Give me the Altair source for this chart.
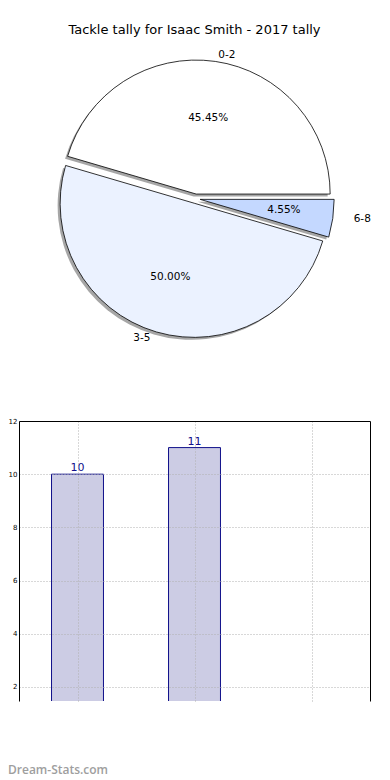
import altair as alt
import pandas as pd

# ---- data ----
cats = ["0-2", "3-5", "6-8"]
counts = [10, 11, 1]
title_text = "Tackle tally for Isaac Smith - 2017 tally"
watermark_text = "Dream-Stats.com"
y_ticks = [2, 4, 6, 8, 10, 12]
x_ticks = [0, 1, 2]

# ---- styles ----
pie_colors = ["#ffffff", "#ebf2ff", "#c4d8ff"]
bar_fill = "#ccccE4"
bar_edge = "#10108a"
grid_color = "#b0b0b0"

df = pd.DataFrame({"cat": cats, "count": counts})
title_df = pd.DataFrame({"t": [title_text]})
wm_df = pd.DataFrame({"t": [watermark_text]})

W, H = 351, 280
# pie geometry in pixels, relative to the bar plot origin
CX, CY = 176.5, -222.3
R = 134
EXP = 4.7
RX, RY = 141, 128

base = (
    alt.Chart(df)
    .transform_window(cum="sum(count)", idx="row_number()", sort=[alt.SortField("cat")])
    .transform_joinaggregate(total="sum(count)")
    .transform_calculate(
        f0="(datum.cum - datum.count) / datum.total",
        f1="datum.cum / datum.total",
    )
    .transform_calculate(
        th0="2.5*PI - 2*PI*datum.f1",
        th1="2.5*PI - 2*PI*datum.f0",
        mid="PI*(datum.f0 + datum.f1)",
        bc="datum.idx - 1",
        bx0="datum.idx - 1 - 0.222",
        bx1="datum.idx - 1 + 0.222",
    )
    .transform_calculate(
        cx=f"{CX} + {EXP}*cos(datum.mid)",
        cy=f"{CY} - {EXP}*sin(datum.mid)",
    )
    .transform_calculate(
        sx="datum.cx - 2.5",
        sy="datum.cy + 2.5",
        px=f"datum.cx + 0.6*{RX}*cos(datum.mid)",
        py=f"datum.cy - 0.6*{RY}*sin(datum.mid)",
        lx=f"datum.cx + 1.1*{RX}*cos(datum.mid)",
        ly=f"datum.cy - 1.1*{RY}*sin(datum.mid)",
        pct="format(100*datum.count/datum.total, '.2f') + '%'",
    )
)

def px(field):
    return alt.X(f"{field}:Q", scale=None, axis=None)

def py(field):
    return alt.Y(f"{field}:Q", scale=None, axis=None)

theta = alt.Theta("th0:Q", scale=None, stack=None)
theta2 = alt.Theta2("th1:Q")

shadow = base.mark_arc(radius=R, fill="#a6a6a6", strokeWidth=0).encode(
    x=px("sx"), y=py("sy"), theta=theta, theta2=theta2
)

slices = base.mark_arc(radius=R, stroke="black", strokeWidth=0.8).encode(
    x=px("cx"), y=py("cy"), theta=theta, theta2=theta2,
    fill=alt.Fill("cat:N", scale=alt.Scale(domain=cats, range=pie_colors), legend=None),
)

pct_text = base.mark_text(font="DejaVu Sans", fontSize=10.5, color="black").encode(
    x=px("px"), y=py("py"), text="pct:N"
)

lab_right = base.transform_filter("cos(datum.mid) >= 0").mark_text(
    font="DejaVu Sans", fontSize=10.5, color="black", align="left", baseline="middle"
).encode(x=px("lx"), y=py("ly"), text="cat:N")

lab_left = base.transform_filter("cos(datum.mid) < 0").mark_text(
    font="DejaVu Sans", fontSize=10.5, color="black", align="right", baseline="middle"
).encode(x=px("lx"), y=py("ly"), text="cat:N")

xscale = alt.Scale(domain=[-0.5, 2.5], nice=False, zero=False)
yscale = alt.Scale(domain=[1.47, 12], nice=False, zero=False)

bars = base.mark_bar(fill=bar_fill, stroke=bar_edge, strokeWidth=1, clip=True).encode(
    x=alt.X(
        "bx0:Q", scale=xscale,
        axis=alt.Axis(orient="top", values=x_ticks, labels=False, ticks=False,
                      domainColor="black", domainWidth=1, grid=True, gridDash=[1, 2],
                      gridColor=grid_color, gridWidth=1, title=None, zindex=1),
    ),
    x2="bx1:Q",
    y=alt.Y(
        "count:Q", scale=yscale,
        axis=alt.Axis(values=y_ticks, labelFont="DejaVu Sans", labelFontSize=7,
                      labelColor="black", labelPadding=2, ticks=False,
                      domainColor="black", domainWidth=1, grid=True, gridDash=[1, 2],
                      gridColor=grid_color, gridWidth=1, title=None, zindex=1),
    ),
    y2=alt.datum(0),
)

bar_labels = base.mark_text(
    font="DejaVu Sans", fontSize=11, color=bar_edge, baseline="alphabetic", dy=-3, clip=True
).encode(
    x=alt.X("bc:Q", scale=xscale, axis=None),
    y=alt.Y("count:Q", scale=yscale,
            axis=alt.Axis(orient="right", labels=False, ticks=False, grid=False,
                          domainColor="black", domainWidth=1, title=None)),
    text="count:Q",
)

title = alt.Chart(title_df).mark_text(
    font="DejaVu Sans", fontSize=13, color="black", align="center", baseline="middle"
).encode(x=alt.value(175.5), y=alt.value(-391), text="t:N")

watermark = alt.Chart(wm_df).mark_text(
    font="Open Sans", fontSize=12, fontWeight=600, color="#9e9e9e", align="left", baseline="middle"
).encode(x=alt.value(-11), y=alt.value(349), text="t:N")

chart = (
    alt.layer(shadow, slices, pct_text, lab_right, lab_left, bars, bar_labels, title, watermark)
    .resolve_scale(x="independent", y="independent")
    .resolve_axis(x="independent", y="independent")
    .properties(
        width=W, height=H,
        autosize=alt.AutoSizeParams(type="none"),
        padding={"left": 11, "top": 413, "right": 12, "bottom": 79},
    )
    .configure_view(stroke=None)
)

chart.save("out.html", embed_options={"renderer": "svg", "actions": False})
